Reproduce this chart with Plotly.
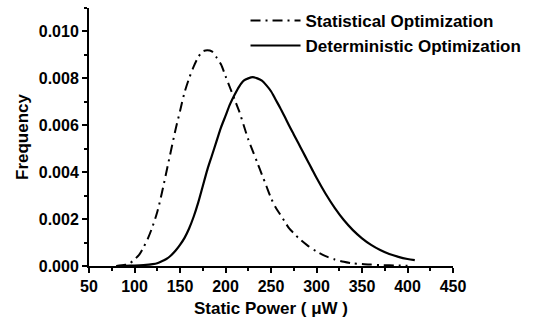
import plotly.graph_objects as go

# Static power (uW) and frequency values
stat_x = [80, 90, 95, 100, 105, 110, 115, 120, 125, 130, 135, 140, 145, 150, 155, 160, 165, 170, 175, 180,
          185, 190, 195, 200, 205, 210, 215, 220, 225, 230, 235, 240, 245, 250, 255, 260, 265, 270, 275, 280,
          290, 300, 310, 320, 330, 340, 350, 360, 370, 380, 390, 400]
stat_y = [0.0, 0.00005, 0.00012, 0.00028, 0.00047, 0.0008, 0.0012, 0.0017, 0.0023, 0.0031, 0.0040, 0.0049,
          0.0058, 0.0066, 0.0074, 0.0080, 0.0085, 0.0089, 0.00915, 0.0092,
          0.00915, 0.0089, 0.0086, 0.0081, 0.0076, 0.0071, 0.0066, 0.0060, 0.0054, 0.0049, 0.0044, 0.0039,
          0.0034, 0.0029, 0.0025, 0.0022, 0.0019, 0.0016, 0.0014, 0.0012,
          0.00088, 0.00062, 0.00042, 0.00028, 0.00018, 0.00011, 0.00008, 0.00006, 0.00004, 0.00003, 0.00002, 0.00001]

det_x = [80, 90, 100, 110, 120, 125, 130, 135, 140, 145, 150, 155, 160, 165, 170, 175, 180, 185, 190, 195,
         200, 205, 210, 215, 220, 225, 230, 235, 240, 245, 250, 255, 260, 265, 270, 275, 280, 285, 290, 295,
         300, 310, 320, 330, 340, 350, 360, 370, 380, 390, 400, 408]
det_y = [0.0, 0.00001, 0.00002, 0.00004, 0.00008, 0.00012, 0.0002, 0.0003, 0.00045, 0.00065, 0.0009, 0.0012,
         0.0016, 0.0021, 0.0027, 0.0034, 0.0041, 0.0047, 0.0053, 0.0059,
         0.0064, 0.0069, 0.0073, 0.00765, 0.0079, 0.0080, 0.00805, 0.0080, 0.0079, 0.0077, 0.00745, 0.0071,
         0.00675, 0.00637, 0.00598, 0.00561, 0.00524, 0.00487, 0.0045, 0.00413,
         0.00376, 0.00308, 0.00248, 0.00196, 0.00153, 0.00118, 0.0009, 0.00068, 0.00051, 0.00039, 0.0003, 0.00025]

series_names = ["Statistical Optimization", "Deterministic Optimization"]
x_ticks = [50, 100, 150, 200, 250, 300, 350, 400, 450]
y_ticks = [0.000, 0.002, 0.004, 0.006, 0.008, 0.010]
y_tick_text = ["0.000", "0.002", "0.004", "0.006", "0.008", "0.010"]

FONT = "Liberation Sans, Arial, sans-serif"

fig = go.Figure()
fig.add_trace(go.Scatter(x=stat_x, y=stat_y, mode="lines", name=series_names[0],
                         line=dict(color="black", width=2, dash="10px,5px,2px,5px", shape="spline", smoothing=0.8)))
fig.add_trace(go.Scatter(x=det_x, y=det_y, mode="lines", name=series_names[1],
                         line=dict(color="black", width=2.2, shape="spline", smoothing=0.8)))

axis_common = dict(showgrid=False, zeroline=False, showline=True, linecolor="black", linewidth=2,
                   ticks="outside", ticklen=5, tickwidth=2, tickcolor="black",
                   tickfont=dict(family=FONT, size=16, color="black", weight="bold"),
                   mirror=False)

fig.update_xaxes(range=[50, 450], tickvals=x_ticks,
                 title=dict(text="Static Power ( μW )", standoff=8,
                            font=dict(family=FONT, size=17, color="black", weight="bold")),
                 minor=dict(ticks="outside", ticklen=3, tickwidth=1.5, tickcolor="black", dtick=25),
                 **axis_common)
fig.update_yaxes(range=[0, 0.011], tickvals=y_ticks, ticktext=y_tick_text,
                 title=dict(text="Frequency", standoff=6,
                            font=dict(family=FONT, size=17, color="black", weight="bold")),
                 minor=dict(ticks="outside", ticklen=3, tickwidth=1.5, tickcolor="black", dtick=0.001),
                 **axis_common)

fig.update_layout(
    width=540, height=322,
    margin=dict(l=89, r=87, t=8, b=56, autoexpand=False),
    paper_bgcolor="white", plot_bgcolor="white",
    showlegend=True,
    legend=dict(x=0.43, y=1.02, xanchor="left", yanchor="top",
                bgcolor="rgba(0,0,0,0)", itemwidth=50,
                font=dict(family=FONT, size=17, color="black", weight="bold"),
                tracegroupgap=0),
)

fig.write_html("out.html")
